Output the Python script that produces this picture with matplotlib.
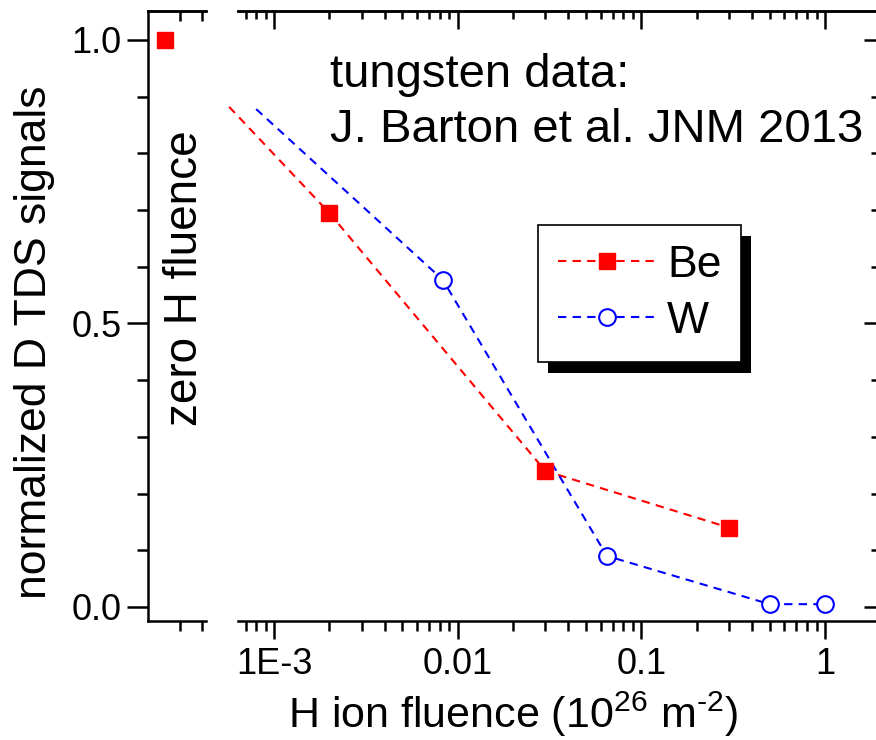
import matplotlib
matplotlib.use("Agg")
import matplotlib.pyplot as plt
import matplotlib.patches as mpatches
from matplotlib.ticker import FixedLocator, FixedFormatter, LogLocator, MultipleLocator, NullFormatter

plt.rcParams['font.family'] = ['Liberation Sans', 'DejaVu Sans']

# data
zero_y = [1.0]                       # Be at zero H fluence
be_x = [2e-3, 0.03, 0.3]
be_y = [0.695, 0.24, 0.14]
w_x = [8.3e-3, 0.065, 0.5, 1.0]
w_y = [0.577, 0.09, 0.005, 0.005]
# where the dashed lines start on the left (no marker there)
be_lead = (5.7e-4, 0.882)
w_lead = (8.0e-4, 0.878)

xticks = [1e-3, 1e-2, 1e-1, 1]
xlabels = ['1E-3', '0.01', '0.1', '1']

W, H = 876, 740
fig = plt.figure(figsize=(W / 100, H / 100), dpi=100)

ylo, yhi = -0.0247, 1.051
lw_sp = 1.8

# left (zero fluence) panel
axl = fig.add_axes([148 / W, 119 / H, 58 / W, 610 / H])
axl.set_xlim(0, 1)
axl.set_ylim(ylo, yhi)
axl.plot([0.29], zero_y, 's', color='red', ms=11, clip_on=False)
axl.spines['right'].set_visible(False)
for s in axl.spines.values():
    s.set_linewidth(lw_sp)
axl.yaxis.set_major_locator(MultipleLocator(0.5))
axl.yaxis.set_minor_locator(MultipleLocator(0.1))
axl.yaxis.set_major_formatter(plt.FuncFormatter(lambda v, p: '%.1f' % v))
axl.tick_params(axis='y', which='major', direction='out', length=15, width=lw_sp, labelsize=26, pad=4)
axl.tick_params(axis='y', which='minor', direction='out', length=8, width=lw_sp)
axl.xaxis.set_major_locator(FixedLocator([0.55, 0.93]))
axl.xaxis.set_major_formatter(NullFormatter())
axl.tick_params(axis='x', which='major', direction='out', length=7, width=lw_sp, bottom=True, top=False)
axl.set_ylabel('normalized D TDS signals', fontsize=32, va='center')
axl.yaxis.set_label_coords(-1.95, 0.457)
# top ticks of left panel point inward
axl_top = axl.secondary_xaxis('top')
axl_top.set_xticks([0.55, 0.93])
axl_top.set_xticklabels([])
axl_top.tick_params(direction='in', length=7, width=lw_sp)
axl_top.spines['top'].set_linewidth(lw_sp)
axl.text(0.64, 0.562, 'zero H fluence', rotation=90, fontsize=33,
         transform=axl.transAxes, ha='center', va='center')

# main log panel
ax = fig.add_axes([238 / W, 119 / H, 640 / W, 610 / H])
ax.set_xscale('log')
ax.set_xlim(6.37e-4, 1.945)
ax.set_ylim(ylo, yhi)
ax.spines['left'].set_visible(False)
for s in ax.spines.values():
    s.set_linewidth(lw_sp)

ax.plot([be_lead[0]] + be_x, [be_lead[1]] + be_y, '--', color='red', lw=1.5,
        dashes=(4, 3), clip_on=False)
ax.plot([w_lead[0]] + w_x, [w_lead[1]] + w_y, '--', color='blue', lw=1.5,
        dashes=(4, 3), clip_on=False)
ax.plot(be_x, be_y, 's', color='red', ms=11, zorder=3)
ax.plot(w_x, w_y, 'o', mfc='white', mec='blue', mew=1.5, ms=12, zorder=3)

ax.xaxis.set_major_locator(FixedLocator(xticks))
ax.xaxis.set_major_formatter(FixedFormatter(xlabels))
ax.xaxis.set_minor_locator(LogLocator(base=10, subs=range(2, 10)))
ax.xaxis.set_minor_formatter(NullFormatter())
ax.tick_params(axis='x', which='major', direction='out', length=13, width=lw_sp, labelsize=26, pad=6)
ax.tick_params(axis='x', which='minor', direction='out', length=7, width=lw_sp)
ax.yaxis.set_major_locator(MultipleLocator(0.5))
ax.yaxis.set_minor_locator(MultipleLocator(0.1))
ax.tick_params(axis='y', which='both', left=False, labelleft=False, right=True)
ax.tick_params(axis='y', which='major', direction='in', length=10, width=lw_sp)
ax.tick_params(axis='y', which='minor', direction='in', length=5, width=lw_sp)

top = ax.secondary_xaxis('top')
top.xaxis.set_major_locator(FixedLocator(xticks))
top.xaxis.set_minor_locator(LogLocator(base=10, subs=range(2, 10)))
top.xaxis.set_major_formatter(NullFormatter())
top.xaxis.set_minor_formatter(NullFormatter())
top.tick_params(which='major', direction='in', length=13, width=lw_sp)
top.tick_params(which='minor', direction='in', length=6, width=lw_sp)
top.spines['top'].set_linewidth(lw_sp)

ax.text(0.144, 0.895, 'tungsten data:', transform=ax.transAxes, fontsize=34, va='center')
ax.text(0.144, 0.805, 'J. Barton et al. JNM 2013', transform=ax.transAxes, fontsize=34, va='center')

fig.text(513 / W, 1 - 728 / H,
         'H ion fluence (10$^{\\mathregular{26}}$ m$^{\\mathregular{\u2010}\\mathregular{2}}$)',
         fontsize=31, ha='center', va='baseline')

# legend with hard black drop shadow
h1, = ax.plot([], [], '--', color='red', lw=1.5, dashes=(4, 3), marker='s', ms=11)
h2, = ax.plot([], [], '--', color='blue', lw=1.5, dashes=(4, 3), marker='o', mfc='white',
              mec='blue', mew=1.5, ms=12)
leg = ax.legend([h1, h2], ['Be', 'W'], fontsize=32, loc='upper left',
                bbox_to_anchor=(538 / W, 1 - 225 / H), bbox_transform=fig.transFigure,
                fancybox=False, edgecolor='black', framealpha=1, handlelength=2.2,
                borderpad=0.45, labelspacing=0.33, handletextpad=0.25, borderaxespad=0)
leg.get_frame().set_linewidth(1.2)
leg.set_zorder(10)
fig.canvas.draw()
bb = leg.get_window_extent()
shadow = mpatches.Rectangle((bb.x0 + 10, bb.y0 - 11), bb.width, bb.height,
                            transform=None, facecolor='black', edgecolor='none', zorder=9)
ax.add_artist(shadow)

fig.savefig('out.png', dpi=100)
